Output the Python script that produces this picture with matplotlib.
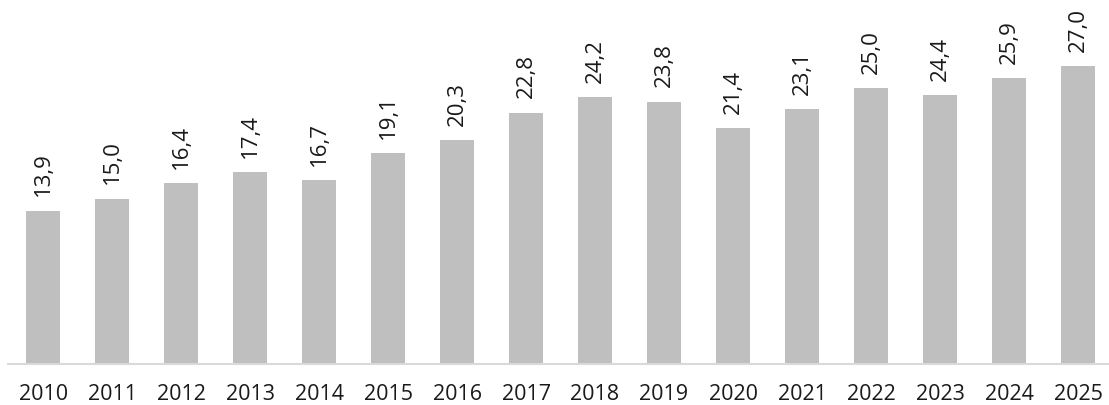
import matplotlib
matplotlib.use("Agg")
import matplotlib.pyplot as plt

years = ["2010", "2011", "2012", "2013", "2014", "2015", "2016", "2017",
         "2018", "2019", "2020", "2021", "2022", "2023", "2024", "2025"]
values = [13.9, 15.0, 16.4, 17.4, 16.7, 19.1, 20.3, 22.8,
          24.2, 23.8, 21.4, 23.1, 25.0, 24.4, 25.9, 27.0]

plt.rcParams['font.family'] = ['Open Sans', 'DejaVu Sans']

fig = plt.figure(figsize=(11.09, 4.06), dpi=100)
ax = fig.add_axes([0.0072, 0.101, 0.9928, 0.899])

x = list(range(len(years)))
bars = ax.bar(x, values, width=0.5, color="#BFBFBF", zorder=2)

for xi, v in zip(x, values):
    ax.annotate(f"{v:.1f}".replace(".", ","), xy=(xi, v), xytext=(0, 11),
                textcoords="offset points", rotation=90, ha="center", va="bottom",
                fontsize=16, color="#1a1a1a")

ax.set_xlim(-0.51, 15.45)
ax.set_ylim(0, 33.1)
ax.set_xticks(x)
ax.set_xticklabels(years, fontsize=15.5, color="#1a1a1a")
ax.tick_params(axis="x", length=0, pad=14)
ax.set_yticks([])
for s in ["top", "right", "left"]:
    ax.spines[s].set_visible(False)
ax.spines["bottom"].set_color("#D9D9D9")
ax.spines["bottom"].set_linewidth(1.5)

fig.savefig("out.png", dpi=100)
